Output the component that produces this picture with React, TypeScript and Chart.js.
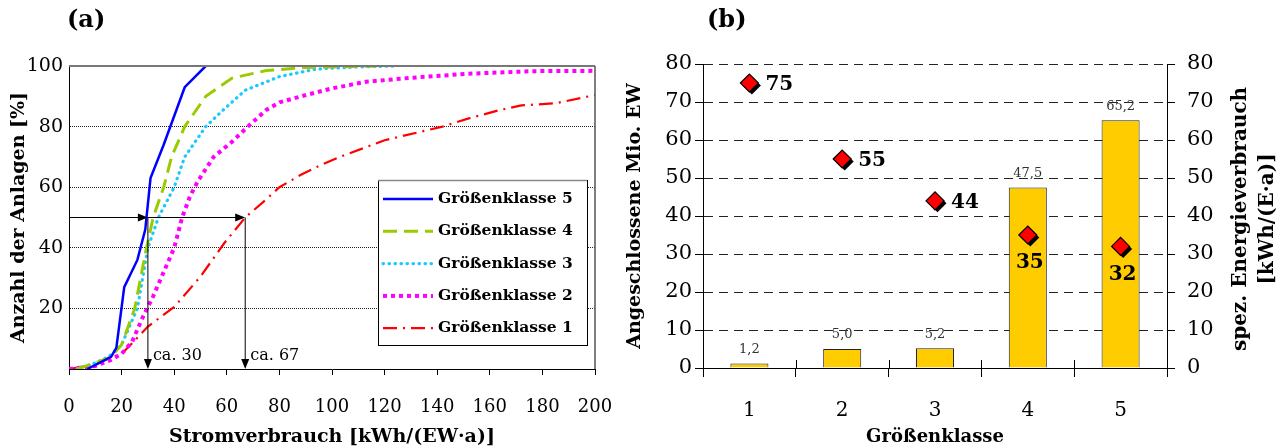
import React, { useEffect, useRef } from 'react';
import { Chart, registerables } from 'chart.js';
Chart.register(...registerables);

const FONT = '"DejaVu Serif", "Liberation Serif", serif';

// ---------- Panel (a) data ----------
const seriesLabels = ['Größenklasse 5', 'Größenklasse 4', 'Größenklasse 3', 'Größenklasse 2', 'Größenklasse 1'];
const gk5X = [7, 16, 18, 21, 26, 29, 31, 36, 44, 52];
const gk5Y = [0, 4, 7, 27, 36, 46, 63, 74, 93, 100];
const gk4X = [3, 10, 16, 20, 25, 29, 32, 36, 39, 44, 52, 62, 75, 90, 117];
const gk4Y = [0, 2, 4, 8, 20, 38, 50, 60, 70, 80, 90, 96, 98.5, 99.5, 100];
const gk3X = [3, 10, 15, 20, 26, 30, 34, 37, 40, 44, 52, 58, 67, 80, 94, 110, 124];
const gk3Y = [0, 2, 4, 8, 20, 40, 50, 55, 60, 70, 80, 85, 92, 96.5, 99, 99.7, 100];
const gk2X = [0, 10, 16, 20, 24, 28, 32, 36, 40, 43, 46, 49, 55, 62, 68, 75, 80, 90, 100, 113, 130, 151, 176, 200];
const gk2Y = [0, 1, 3, 5, 9, 17, 24, 32, 40, 50, 57, 62, 70, 75, 80, 85.5, 88, 90.4, 92.6, 94.8, 96.1, 97.4, 98.3, 98.4];
const gk1X = [0, 10, 15, 20, 24, 30, 40, 50, 59, 67, 75, 80, 88, 95, 103, 120, 142, 152, 164, 172, 185, 200];
const gk1Y = [0, 1.5, 3.5, 5, 8.5, 14, 20.5, 30.5, 41.5, 50, 56, 60, 64, 67, 70, 75.5, 80, 82.7, 85.5, 87, 87.7, 90.4];
const xTickStepA = 20;
const yTickStepA = 20;
const arrowLevel = 50;
const arrowTargets = [30, 67];
const arrowLabels = ['ca. 30', 'ca. 67'];

// ---------- Panel (b) data ----------
const categoriesB = ['1', '2', '3', '4', '5'];
const ewValues = [1.2, 5.0, 5.2, 47.5, 65.2];
const ewLabels = ['1,2', '5,0', '5,2', '47,5', '65,2'];
const energyValues = [75, 55, 44, 35, 32];
const energyLabels = ['75', '55', '44', '35', '32'];

const toPts = (xs: number[], ys: number[]) => xs.map((x, i) => ({ x, y: ys[i] }));

const seriesData = [toPts(gk5X, gk5Y), toPts(gk4X, gk4Y), toPts(gk3X, gk3Y), toPts(gk2X, gk2Y), toPts(gk1X, gk1Y)];
const seriesStyle = [
  { color: '#0000FF', width: 2.5, dash: [] as number[], cap: 'butt' },
  { color: '#99CC00', width: 3, dash: [14, 7], cap: 'butt' },
  { color: '#1EC8FF', width: 3.2, dash: [0.5, 5.5], cap: 'round' },
  { color: '#FF00FF', width: 4, dash: [4, 4], cap: 'butt' },
  { color: '#FF0000', width: 2.2, dash: [14, 6, 2, 6], cap: 'butt' },
];

function drawArrowHead(ctx: CanvasRenderingContext2D, x: number, y: number, dir: 'right' | 'down') {
  ctx.beginPath();
  if (dir === 'right') {
    ctx.moveTo(x, y);
    ctx.lineTo(x - 10, y - 4);
    ctx.lineTo(x - 10, y + 4);
  } else {
    ctx.moveTo(x, y);
    ctx.lineTo(x - 4, y - 10);
    ctx.lineTo(x + 4, y - 10);
  }
  ctx.closePath();
  ctx.fill();
}

const panelAPlugin = {
  id: 'panelA',
  afterDraw(chart: any) {
    const { ctx, chartArea } = chart;
    const xs = chart.scales.x;
    const ys = chart.scales.y;
    ctx.save();
    // frame: top and right border in gray
    ctx.strokeStyle = '#777';
    ctx.lineWidth = 2;
    ctx.beginPath();
    ctx.moveTo(chartArea.left, chartArea.top);
    ctx.lineTo(chartArea.right, chartArea.top);
    ctx.stroke();
    ctx.lineWidth = 1.5;
    ctx.strokeStyle = '#555';
    ctx.beginPath();
    ctx.moveTo(chartArea.right, chartArea.top);
    ctx.lineTo(chartArea.right, chartArea.bottom);
    ctx.stroke();

    // arrows
    ctx.strokeStyle = '#000';
    ctx.fillStyle = '#000';
    ctx.lineWidth = 1;
    const yPix = ys.getPixelForValue(arrowLevel);
    const y0 = ys.getPixelForValue(0);
    let prevX = xs.getPixelForValue(0);
    arrowTargets.forEach((t, i) => {
      const xp = xs.getPixelForValue(t);
      ctx.beginPath();
      ctx.moveTo(prevX, yPix);
      ctx.lineTo(xp - 2, yPix);
      ctx.stroke();
      drawArrowHead(ctx, xp, yPix, 'right');
      ctx.beginPath();
      ctx.moveTo(xp, yPix);
      ctx.lineTo(xp, y0 - 2);
      ctx.stroke();
      drawArrowHead(ctx, xp, y0, 'down');
      prevX = xp;
      ctx.font = `16px ${FONT}`;
      ctx.textAlign = 'left';
      ctx.textBaseline = 'middle';
      ctx.fillText(arrowLabels[i], xp + 5, y0 - 13);
    });

    // legend box
    const bw = 209, bh = 165;
    const bx = chartArea.right - 217;
    const by = chartArea.top + 114;
    ctx.fillStyle = '#fff';
    ctx.fillRect(bx, by, bw, bh);
    ctx.strokeStyle = '#000';
    ctx.lineWidth = 1;
    ctx.strokeRect(bx + 0.5, by + 0.5, bw, bh);
    ctx.strokeStyle = '#888';
    ctx.lineWidth = 1.5;
    ctx.beginPath();
    ctx.moveTo(bx, by + 0.5);
    ctx.lineTo(bx + bw, by + 0.5);
    ctx.stroke();
    chart.data.datasets.forEach((ds: any, i: number) => {
      const ly = by + 19 + i * 32.3;
      ctx.save();
      ctx.strokeStyle = ds.borderColor;
      ctx.lineWidth = ds.borderWidth;
      ctx.setLineDash(ds.borderDash || []);
      ctx.lineCap = ds.borderCapStyle || 'butt';
      ctx.beginPath();
      ctx.moveTo(bx + 5, ly);
      ctx.lineTo(bx + 55, ly);
      ctx.stroke();
      ctx.restore();
      ctx.fillStyle = '#000';
      ctx.font = `bold 15.5px ${FONT}`;
      ctx.textAlign = 'left';
      ctx.textBaseline = 'middle';
      ctx.fillText(ds.label, bx + 60, ly);
    });

    // panel letter
    ctx.fillStyle = '#000';
    ctx.font = `bold 24px ${FONT}`;
    ctx.textAlign = 'left';
    ctx.textBaseline = 'middle';
    ctx.fillText('(a)', 67, 21);
    ctx.restore();
  },
};

function PanelA() {
  const ref = useRef<HTMLCanvasElement>(null);
  useEffect(() => {
    const chart = new Chart(ref.current as HTMLCanvasElement, {
      type: 'line',
      data: {
        datasets: seriesLabels.map((label, i) => ({
          label,
          data: seriesData[i],
          borderColor: seriesStyle[i].color,
          backgroundColor: seriesStyle[i].color,
          borderWidth: seriesStyle[i].width,
          borderDash: seriesStyle[i].dash,
          borderCapStyle: seriesStyle[i].cap,
          pointRadius: 0,
          tension: 0,
          fill: false,
        })),
      } as any,
      options: {
        responsive: false,
        animation: false,
        layout: { padding: { top: 66, right: 25, left: 0, bottom: 0 } },
        plugins: { legend: { display: false }, tooltip: { enabled: false } },
        scales: {
          x: {
            type: 'linear',
            min: 0,
            max: 200,
            ticks: { stepSize: xTickStepA, font: { family: FONT, size: 18 }, color: '#000', padding: 22, maxRotation: 0 },
            grid: { drawOnChartArea: false, drawTicks: true, tickLength: 6, color: '#000', tickColor: '#000' },
            border: { color: '#000', width: 1 },
            title: {
              display: true,
              text: 'Stromverbrauch [kWh/(EW·a)]',
              font: { family: FONT, size: 19, weight: 'bold' },
              color: '#000',
              padding: { top: 0, bottom: 0 },
            },
            afterFit: (s: any) => {
              s.height = 79;
              s.paddingLeft = 0;
              s.paddingRight = 20;
            },
          },
          y: {
            min: 0,
            max: 100,
            ticks: {
              stepSize: yTickStepA,
              callback: (v: any) => (v === 0 ? '' : String(v)),
              font: { family: FONT, size: 19 },
              color: '#000',
              padding: 6,
            },
            grid: {
              drawTicks: false,
              color: (c: any) => (c.tick && c.tick.value > 0 && c.tick.value < 100 ? '#222' : 'rgba(0,0,0,0)'),
              lineWidth: 1,
            },
            border: { color: '#000', width: 1, dash: [1, 1] },
            title: {
              display: true,
              text: 'Anzahl der Anlagen [%]',
              font: { family: FONT, size: 19, weight: 'bold' },
              color: '#000',
              padding: { top: 8, bottom: 0 },
            },
            afterFit: (s: any) => {
              s.width = 69;
              s.paddingTop = 0;
              s.paddingBottom = 0;
            },
          },
        },
      } as any,
      plugins: [panelAPlugin],
    });
    return () => chart.destroy();
  }, []);
  return (
    <canvas
      ref={ref}
      width={620}
      height={448}
      style={{ position: 'absolute', left: 0, top: 0, width: 620, height: 448 }}
    />
  );
}

function diamondPath(ctx: CanvasRenderingContext2D, x: number, y: number, r: number) {
  ctx.beginPath();
  ctx.moveTo(x, y - r);
  ctx.lineTo(x + r, y);
  ctx.lineTo(x, y + r);
  ctx.lineTo(x - r, y);
  ctx.closePath();
}

const panelBPlugin = {
  id: 'panelB',
  beforeDatasetDraw(chart: any, args: any) {
    if (args.index !== 1) return;
    const { ctx } = chart;
    ctx.save();
    ctx.fillStyle = '#000';
    args.meta.data.forEach((pt: any) => {
      diamondPath(ctx, pt.x + 2.5, pt.y + 2.5, 9);
      ctx.fill();
    });
    ctx.restore();
  },
  afterDraw(chart: any) {
    const { ctx, chartArea } = chart;
    ctx.save();
    // bar value labels
    const barMeta = chart.getDatasetMeta(0);
    ctx.fillStyle = '#333';
    ctx.font = `13px ${FONT}`;
    ctx.textAlign = 'center';
    ctx.textBaseline = 'middle';
    barMeta.data.forEach((bar: any, i: number) => {
      ctx.fillText(ewLabels[i], bar.x, bar.y - 14);
    });
    // diamond labels
    const ptMeta = chart.getDatasetMeta(1);
    ctx.fillStyle = '#000';
    ctx.font = `bold 20px ${FONT}`;
    ptMeta.data.forEach((pt: any, i: number) => {
      if (i < 3) {
        ctx.textAlign = 'left';
        ctx.fillText(energyLabels[i], pt.x + 16, pt.y + 2);
      } else {
        ctx.textAlign = 'center';
        ctx.fillText(energyLabels[i], pt.x + 2, pt.y + 28);
      }
    });
    // inner tick marks on x axis at category boundaries
    ctx.strokeStyle = '#000';
    ctx.lineWidth = 1;
    const n = categoriesB.length;
    for (let i = 1; i < n; i++) {
      const x = Math.round(chartArea.left + (i * (chartArea.right - chartArea.left)) / n) + 0.5;
      ctx.beginPath();
      ctx.moveTo(x, chartArea.bottom);
      ctx.lineTo(x, chartArea.bottom - 8);
      ctx.stroke();
    }
    // right axis title (reads bottom to top)
    const cy = (chartArea.top + chartArea.bottom) / 2 + 3;
    ctx.font = `bold 20px ${FONT}`;
    ctx.textAlign = 'center';
    ctx.textBaseline = 'middle';
    ctx.save();
    ctx.translate(621, cy);
    ctx.rotate(-Math.PI / 2);
    ctx.fillText('spez. Energieverbrauch', 0, 0);
    ctx.restore();
    ctx.save();
    ctx.translate(648, cy);
    ctx.rotate(-Math.PI / 2);
    ctx.fillText('[kWh/(E·a)]', 0, 0);
    ctx.restore();
    // panel letter
    ctx.font = `bold 24px ${FONT}`;
    ctx.textAlign = 'left';
    ctx.fillText('(b)', 87, 21);
    ctx.restore();
  },
};

function PanelB() {
  const ref = useRef<HTMLCanvasElement>(null);
  useEffect(() => {
    const chart = new Chart(ref.current as HTMLCanvasElement, {
      type: 'bar',
      data: {
        labels: categoriesB,
        datasets: [
          {
            type: 'bar',
            label: 'Angeschlossene Mio. EW',
            data: ewValues,
            yAxisID: 'y',
            backgroundColor: '#FFCC00',
            borderColor: '#222',
            borderWidth: 1,
            barPercentage: 0.41,
            categoryPercentage: 1,
            order: 2,
          },
          {
            type: 'line',
            label: 'spez. Energieverbrauch',
            data: energyValues,
            yAxisID: 'y2',
            showLine: false,
            pointStyle: 'rectRot',
            pointRadius: 9,
            pointBackgroundColor: '#FF0000',
            pointBorderColor: '#000',
            pointBorderWidth: 1.2,
            order: 1,
          },
        ],
      } as any,
      options: {
        responsive: false,
        animation: false,
        layout: { padding: { top: 64, right: 0, left: 0, bottom: 0 } },
        plugins: { legend: { display: false }, tooltip: { enabled: false } },
        scales: {
          x: {
            type: 'category',
            offset: true,
            ticks: { font: { family: FONT, size: 20 }, color: '#000', padding: 22 },
            grid: { offset: true, drawOnChartArea: false, tickLength: 9, color: '#000', tickColor: '#000' },
            border: { color: '#000', width: 1 },
            title: {
              display: true,
              text: 'Größenklasse',
              font: { family: FONT, size: 18, weight: 'bold' },
              color: '#000',
              padding: { top: 0, bottom: 0 },
            },
            afterFit: (s: any) => {
              s.height = 80;
              s.paddingLeft = 0;
              s.paddingRight = 0;
            },
          },
          y: {
            position: 'left',
            min: 0,
            max: 80,
            ticks: { stepSize: 10, font: { family: FONT, size: 21 }, color: '#000', padding: 3 },
            grid: {
              color: (c: any) => (c.tick && c.tick.value > 0 ? '#222' : 'rgba(0,0,0,0)'),
              tickColor: '#000',
              tickLength: 8,
              lineWidth: 1,
            },
            border: { color: '#000', width: 1, dash: [9, 6] },
            title: {
              display: true,
              text: 'Angeschlossene Mio. EW',
              font: { family: FONT, size: 19, weight: 'bold' },
              color: '#000',
              padding: { top: 4, bottom: 0 },
            },
            afterFit: (s: any) => {
              s.width = 83;
              s.paddingTop = 0;
              s.paddingBottom = 0;
            },
          },
          y2: {
            position: 'right',
            min: 0,
            max: 80,
            ticks: { stepSize: 10, font: { family: FONT, size: 21 }, color: '#000', padding: 12 },
            grid: { drawOnChartArea: false, tickColor: '#000', tickLength: 8, color: '#000' },
            border: { color: '#000', width: 1 },
            afterFit: (s: any) => {
              s.width = 115;
              s.paddingTop = 0;
              s.paddingBottom = 0;
            },
          },
        },
      } as any,
      plugins: [panelBPlugin],
    });
    return () => chart.destroy();
  }, []);
  return (
    <canvas
      ref={ref}
      width={662}
      height={448}
      style={{ position: 'absolute', left: 620, top: 0, width: 662, height: 448 }}
    />
  );
}

export default function App() {
  return (
    <div style={{ position: 'absolute', left: 0, top: 0, width: 1282, height: 448, background: '#fff' }}>
      <PanelA />
      <PanelB />
    </div>
  );
}
